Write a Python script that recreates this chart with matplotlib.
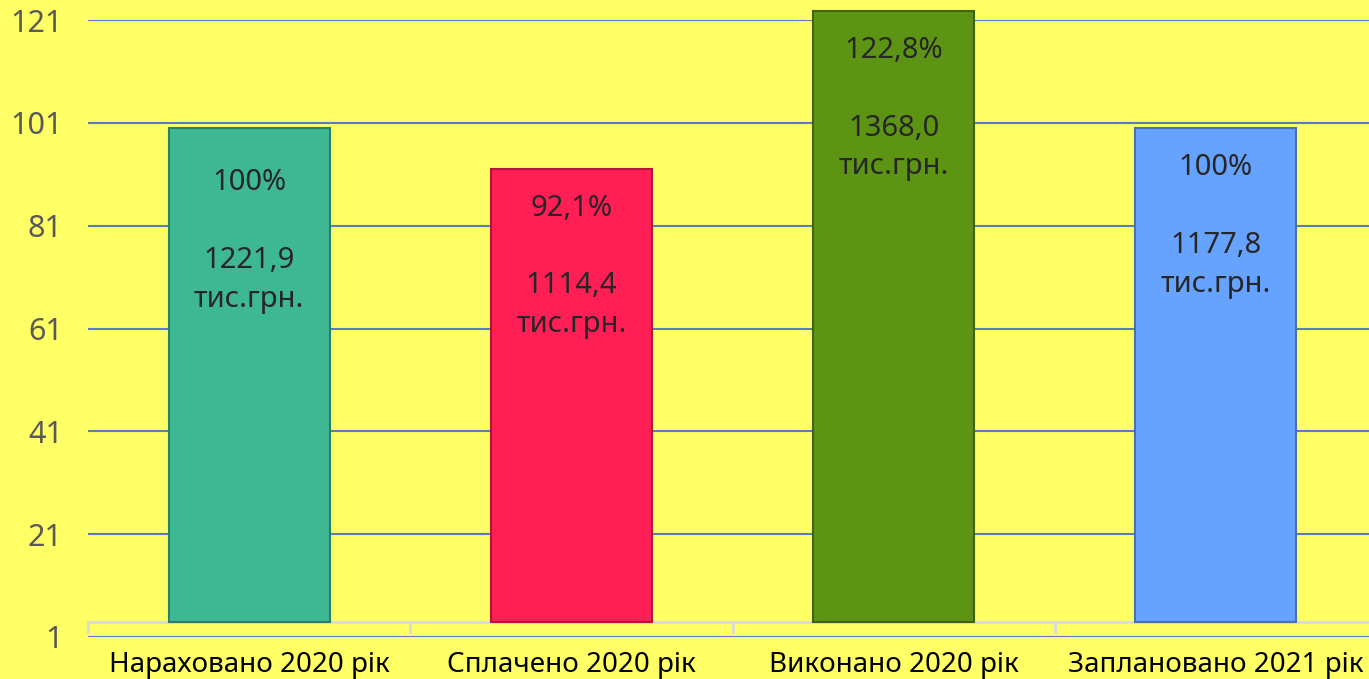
import matplotlib
matplotlib.use("Agg")
import matplotlib.pyplot as plt

plt.rcParams['font.family'] = ['Noto Sans', 'DejaVu Sans']

categories = ["Нараховано 2020 рік", "Сплачено 2020 рік", "Виконано 2020 рік", "Заплановано 2021 рік"]
percents = [100.0, 92.1, 122.8, 100.0]
pct_labels = ["100%", "92,1%", "122,8%", "100%"]
amounts = ["1221,9", "1114,4", "1368,0", "1177,8"]
yticks = [1, 21, 41, 61, 81, 101, 121]

colors = ["#3DB893", "#FF1F55", "#5E9414", "#66A3FF"]
edges = ["#2A8066", "#B3163C", "#3F640D", "#4672B3"]
base = 3.9  # bars stand on the chart "floor"
label_offset = [-29, -18, -18, -18]

fig = plt.figure(figsize=(13.69, 6.79), dpi=100)
fig.patch.set_facecolor("#FFFF66")
ax = fig.add_axes([88/1369, 42/679, 1289/1369, 617/679])
ax.set_facecolor("#FFFF66")

x = range(len(categories))
heights = [p - base for p in percents]
bars = ax.bar(x, heights, bottom=base, width=0.5, color=colors, edgecolor=edges,
              linewidth=1.5, zorder=3)
for b in bars:
    b.set_clip_on(False)

for i, p in enumerate(percents):
    ax.annotate(pct_labels[i] + "\n\n" + amounts[i] + "\nтис.грн.", xy=(i, p),
                xytext=(0, label_offset[i]), textcoords="offset points",
                ha="center", va="top", fontsize=21, color="#262626",
                linespacing=1.45, zorder=4, annotation_clip=False)

ax.set_xlim(-0.5, 3.5)
ax.set_ylim(1, 121)
ax.set_yticks(yticks)
ax.set_yticklabels([str(t) for t in yticks], fontsize=22, color="#595959")
ax.set_xticks(list(x))
ax.set_xticklabels(categories, fontsize=20, color="black")
ax.tick_params(length=0, pad=10)
ax.tick_params(axis="y", pad=18)
ax.grid(axis="y", color="#5B7BC0", linewidth=1.5, zorder=0)
for s in ax.spines.values():
    s.set_visible(False)

# floor line with category separators
ax.axhline(base, color="#D9D9D9", linewidth=2, zorder=2)
for b in [-0.5, 0.5, 1.5, 2.5]:
    ax.plot([b, b], [base, base - 2], color="#D9D9D9", linewidth=2, zorder=2, clip_on=False)

fig.savefig("out.png", dpi=100, facecolor=fig.get_facecolor())
